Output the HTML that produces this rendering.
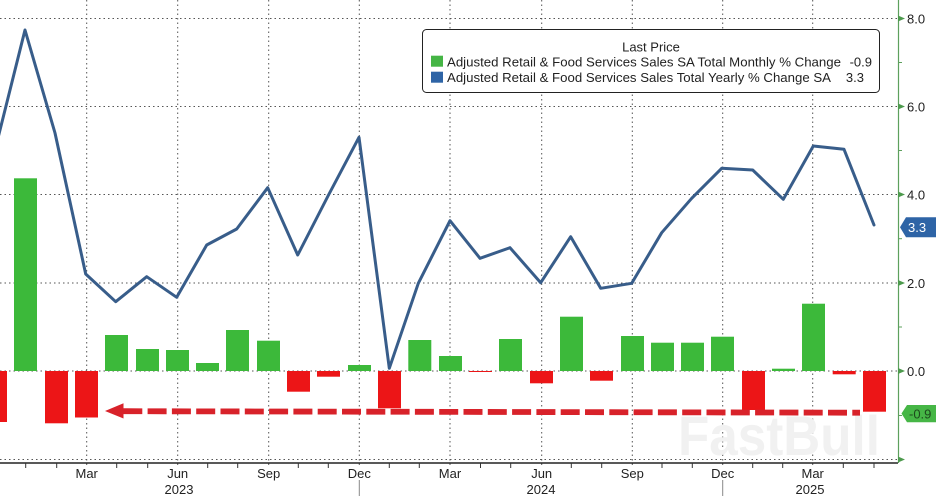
<!DOCTYPE html>
<html>
<head>
<meta charset="utf-8">
<style>
  html,body{margin:0;padding:0;background:#fff;}
  svg{display:block;}
  text{font-family:"Liberation Sans", "DejaVu Sans", sans-serif;}
</style>
</head>
<body>
<svg width="936" height="496" viewBox="0 0 936 496" xmlns="http://www.w3.org/2000/svg">
  <rect x="0" y="0" width="936" height="496" fill="#ffffff"/>

  <!-- horizontal dotted gridlines -->
  <g stroke="#555" stroke-width="1" stroke-dasharray="1.5,3" fill="none">
    <line x1="0" y1="18.5" x2="898" y2="18.5"/>
    <line x1="0" y1="106.5" x2="898" y2="106.5"/>
    <line x1="0" y1="194.5" x2="898" y2="194.5"/>
    <line x1="0" y1="283" x2="898" y2="283"/>
    <line x1="0" y1="371" x2="898" y2="371"/>
    <line x1="0" y1="459.5" x2="898" y2="459.5"/>
  </g>
  <!-- vertical dotted gridlines (quarters) -->
  <g stroke="#555" stroke-width="1" stroke-dasharray="1.5,3" fill="none">
    <line x1="86.7" y1="0" x2="86.7" y2="468"/>
    <line x1="177.7" y1="0" x2="177.7" y2="468"/>
    <line x1="268.7" y1="0" x2="268.7" y2="468"/>
    <line x1="359.3" y1="0" x2="359.3" y2="468"/>
    <line x1="450" y1="0" x2="450" y2="468"/>
    <line x1="541.7" y1="0" x2="541.7" y2="468"/>
    <line x1="632.3" y1="0" x2="632.3" y2="468"/>
    <line x1="722.7" y1="0" x2="722.7" y2="468"/>
    <line x1="812.7" y1="0" x2="812.7" y2="468"/>
  </g>

  <!-- watermark -->
  <text x="678" y="455" font-size="56" font-weight="bold" fill="#f1f1f1" textLength="202" lengthAdjust="spacingAndGlyphs">FastBull</text>

  <!-- bars -->
  <g fill="#3cb93a">
    <rect x="14" y="178.3" width="23" height="192.7"/>
    <rect x="105" y="335" width="23" height="36"/>
    <rect x="136" y="349" width="23" height="22"/>
    <rect x="166" y="350" width="23" height="21"/>
    <rect x="196" y="363" width="23" height="8"/>
    <rect x="226" y="330" width="23" height="41"/>
    <rect x="257" y="340.7" width="23" height="30.3"/>
    <rect x="348" y="365" width="23" height="6"/>
    <rect x="408.3" y="340" width="23" height="31"/>
    <rect x="439" y="356" width="23" height="15"/>
    <rect x="499" y="339" width="23" height="32"/>
    <rect x="560" y="316.7" width="23" height="54.3"/>
    <rect x="621" y="336" width="23" height="35"/>
    <rect x="651" y="342.7" width="23" height="28.3"/>
    <rect x="681" y="342.7" width="23" height="28.3"/>
    <rect x="711" y="336.7" width="23" height="34.3"/>
    <rect x="772" y="368.7" width="23" height="2.3"/>
    <rect x="802" y="303.7" width="23" height="67.3"/>
  </g>
  <g fill="#ec1517">
    <rect x="-16" y="371" width="23" height="51"/>
    <rect x="45" y="371" width="23" height="52.3"/>
    <rect x="75" y="371" width="23" height="46.5"/>
    <rect x="287" y="371" width="23" height="20.7"/>
    <rect x="317" y="371" width="23" height="5.7"/>
    <rect x="378" y="371" width="23" height="37.3"/>
    <rect x="469" y="371" width="23" height="1"/>
    <rect x="530" y="371" width="23" height="12.3"/>
    <rect x="590" y="371" width="23" height="9.7"/>
    <rect x="742" y="371" width="23" height="39"/>
    <rect x="832.7" y="371" width="23" height="3.3"/>
    <rect x="863" y="371" width="23" height="40.7"/>
  </g>

  <!-- yearly % change line -->
  <polyline fill="none" stroke="#385d8a" stroke-width="3" stroke-linejoin="round" stroke-linecap="round"
    points="-4.5,148 25,30 55,133 85.7,274 115.7,301.7 146.7,276.7 176.7,297.3 206.7,245 236.7,229 267.7,187.7 297.7,255 328,196 359,137.3 389.3,368.3 418.3,283.3 450,220.7 480,258.3 510,247.7 540.7,282.7 570.7,236.7 600.7,288.3 631.7,283.3 661.7,232.7 691.7,198.3 721.7,168.3 752.7,170 783.3,199.3 813.3,146 844,149.3 874,225"/>

  <!-- dashed arrow -->
  <line x1="123.3" y1="411.2" x2="860" y2="412.7" stroke="#d8222a" stroke-width="5.8" stroke-dasharray="19,5.3"/>
  <polygon points="105,411 123.5,403.3 123.5,418.5" fill="#d8222a"/>

  <!-- bottom axis -->
  <line x1="0" y1="463" x2="898" y2="463" stroke="#222" stroke-width="1.5"/>
  <g stroke="#333" stroke-width="1">
    <line x1="25.7" y1="463" x2="25.7" y2="468"/>
    <line x1="56.7" y1="463" x2="56.7" y2="468"/>
    <line x1="116.7" y1="463" x2="116.7" y2="468"/>
    <line x1="147.7" y1="463" x2="147.7" y2="468"/>
    <line x1="207.7" y1="463" x2="207.7" y2="468"/>
    <line x1="237.7" y1="463" x2="237.7" y2="468"/>
    <line x1="298.3" y1="463" x2="298.3" y2="468"/>
    <line x1="328.3" y1="463" x2="328.3" y2="468"/>
    <line x1="389.3" y1="463" x2="389.3" y2="468"/>
    <line x1="419.3" y1="463" x2="419.3" y2="468"/>
    <line x1="480.5" y1="463" x2="480.5" y2="468"/>
    <line x1="510.7" y1="463" x2="510.7" y2="468"/>
    <line x1="571.3" y1="463" x2="571.3" y2="468"/>
    <line x1="601.7" y1="463" x2="601.7" y2="468"/>
    <line x1="662" y1="463" x2="662" y2="468"/>
    <line x1="692.3" y1="463" x2="692.3" y2="468"/>
    <line x1="752.7" y1="463" x2="752.7" y2="468"/>
    <line x1="782.7" y1="463" x2="782.7" y2="468"/>
    <line x1="843.3" y1="463" x2="843.3" y2="468"/>
    <line x1="874" y1="463" x2="874" y2="468"/>
  </g>
  <!-- year separators -->
  <g stroke="#888" stroke-width="1">
    <line x1="359.3" y1="480" x2="359.3" y2="496"/>
    <line x1="722.7" y1="480" x2="722.7" y2="496"/>
  </g>
  <g font-size="13" fill="#222" text-anchor="middle">
    <text x="86.7" y="478">Mar</text>
    <text x="177.7" y="478">Jun</text>
    <text x="268.7" y="478">Sep</text>
    <text x="359.3" y="478">Dec</text>
    <text x="450" y="478">Mar</text>
    <text x="541.7" y="478">Jun</text>
    <text x="632.3" y="478">Sep</text>
    <text x="722.7" y="478">Dec</text>
    <text x="812.7" y="478">Mar</text>
    <text x="179" y="494">2023</text>
    <text x="541" y="494">2024</text>
    <text x="810" y="494">2025</text>
  </g>

  <!-- right axis -->
  <line x1="898.5" y1="0" x2="898.5" y2="463" stroke="#5da05d" stroke-width="1.2"/>
  <g fill="#4d9a4d">
    <polygon points="898,15.5 905,18.5 898,21.5"/>
    <polygon points="898,103.5 905,106.5 898,109.5"/>
    <polygon points="898,191.5 905,194.5 898,197.5"/>
    <polygon points="898,280 905,283 898,286"/>
    <polygon points="898,368 905,371 898,374"/>
    <polygon points="898,456.5 905,459.5 898,462.5"/>
  </g>
  <g stroke="#5da05d" stroke-width="1">
    <line x1="898" y1="62.5" x2="902" y2="62.5"/>
    <line x1="898" y1="150.5" x2="902" y2="150.5"/>
    <line x1="898" y1="238.7" x2="902" y2="238.7"/>
    <line x1="898" y1="327" x2="902" y2="327"/>
    <line x1="898" y1="415.5" x2="902" y2="415.5"/>
  </g>
  <g font-size="13" fill="#222">
    <text x="907" y="23.5">8.0</text>
    <text x="907" y="111.5">6.0</text>
    <text x="907" y="199.5">4.0</text>
    <text x="907" y="288">2.0</text>
    <text x="907" y="376">0.0</text>
  </g>

  <!-- last value tags -->
  <polygon points="900,227.3 906,217.3 936,217.3 936,237.3 906,237.3" fill="#2e64a6"/>
  <text x="908" y="232" font-size="13" fill="#ffffff">3.3</text>
  <polygon points="901.5,413.5 907,405 936,405 936,422.3 907,422.3" fill="#46b646"/>
  <text x="909" y="418.5" font-size="13" fill="#1d4a1d">-0.9</text>

  <!-- legend -->
  <rect x="422.5" y="29.5" width="457" height="63" rx="4" ry="4" fill="#ffffff" stroke="#222" stroke-width="1"/>
  <text x="651" y="51.5" font-size="13" fill="#222" text-anchor="middle">Last Price</text>
  <rect x="431" y="55.7" width="12" height="11" fill="#45b545"/>
  <rect x="431" y="71.7" width="12" height="11" fill="#2e64a6"/>
  <text x="447" y="66.5" font-size="13" fill="#222" textLength="394" lengthAdjust="spacingAndGlyphs">Adjusted Retail &amp; Food Services Sales SA Total Monthly % Change</text>
  <text x="872" y="66.5" font-size="13" fill="#222" text-anchor="end">-0.9</text>
  <text x="447" y="82.2" font-size="13" fill="#222" textLength="384" lengthAdjust="spacingAndGlyphs">Adjusted Retail &amp; Food Services Sales Total Yearly % Change SA</text>
  <text x="864" y="82.2" font-size="13" fill="#222" text-anchor="end">3.3</text>
</svg>
</body>
</html>
